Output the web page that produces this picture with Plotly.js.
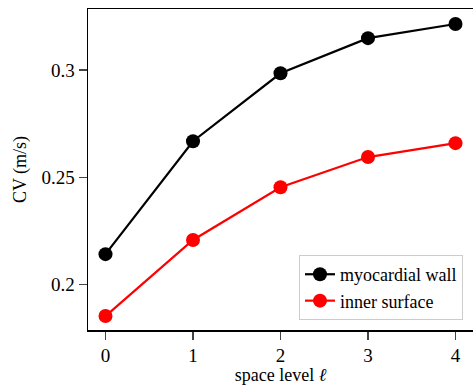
<!DOCTYPE html>
<html><head><meta charset="utf-8">
<script src="https://cdn.plot.ly/plotly-3.0.1.min.js"></script>
<style>body{margin:0;padding:0;background:#fff;overflow:hidden}#chart{width:473px;height:385px}</style>
</head><body><div id="chart"></div>
<script>
const levels = [0, 1, 2, 3, 4];
const myocardialWall = [0.2141, 0.2668, 0.2985, 0.3149, 0.3215];
const innerSurface = [0.1852, 0.2207, 0.2453, 0.2594, 0.2659];
const yTickVals = [0.2, 0.25, 0.3];
const yTickText = ['0.2', '0.25', '0.3'];

const font = {family: "'Liberation Serif', 'Times New Roman', serif", color: '#000'};
const traces = [
  {x: levels, y: myocardialWall, name: 'myocardial wall', mode: 'lines+markers',
   line: {color: '#000', width: 2.2}, marker: {color: '#000', size: 14}},
  {x: levels, y: innerSurface, name: 'inner surface', mode: 'lines+markers',
   line: {color: '#ff0000', width: 2.2}, marker: {color: '#ff0000', size: 14}}
];
const layout = {
  width: 473, height: 385,
  margin: {l: 88, r: 0, t: 9, b: 55, pad: 0},
  paper_bgcolor: '#fff', plot_bgcolor: '#fff',
  font: Object.assign({size: 18}, font),
  showlegend: true,
  legend: {x: 0.974, y: 0.031, xanchor: 'right', yanchor: 'bottom',
    bgcolor: '#fff', bordercolor: '#cccccc', borderwidth: 1,
    font: Object.assign({size: 18}, font), tracegroupgap: 0},
  xaxis: {range: [-0.2, 4.2], tickvals: levels, ticktext: levels.map(String), automargin: false,
    showgrid: false, zeroline: false, showline: true, linecolor: '#000', linewidth: 1.5,
    mirror: true, ticks: 'outside', ticklen: 8, tickcolor: '#444', tickwidth: 1.2,
    tickfont: Object.assign({size: 19}, font),
    title: {text: 'space level <i>ℓ</i>', font: Object.assign({size: 18}, font), standoff: 4}},
  yaxis: {range: [0.1787, 0.3285], tickvals: yTickVals, ticktext: yTickText, automargin: false,
    showgrid: false, zeroline: false, showline: true, linecolor: '#000', linewidth: 1.5,
    mirror: false, ticks: 'outside', ticklen: 8, tickcolor: '#444', tickwidth: 1.2,
    tickfont: Object.assign({size: 19}, font),
    title: {text: 'CV (m/s)', font: Object.assign({size: 18}, font), standoff: 10}}
};
Plotly.newPlot('chart', traces, layout, {displayModeBar: false, staticPlot: true});
</script></body></html>
